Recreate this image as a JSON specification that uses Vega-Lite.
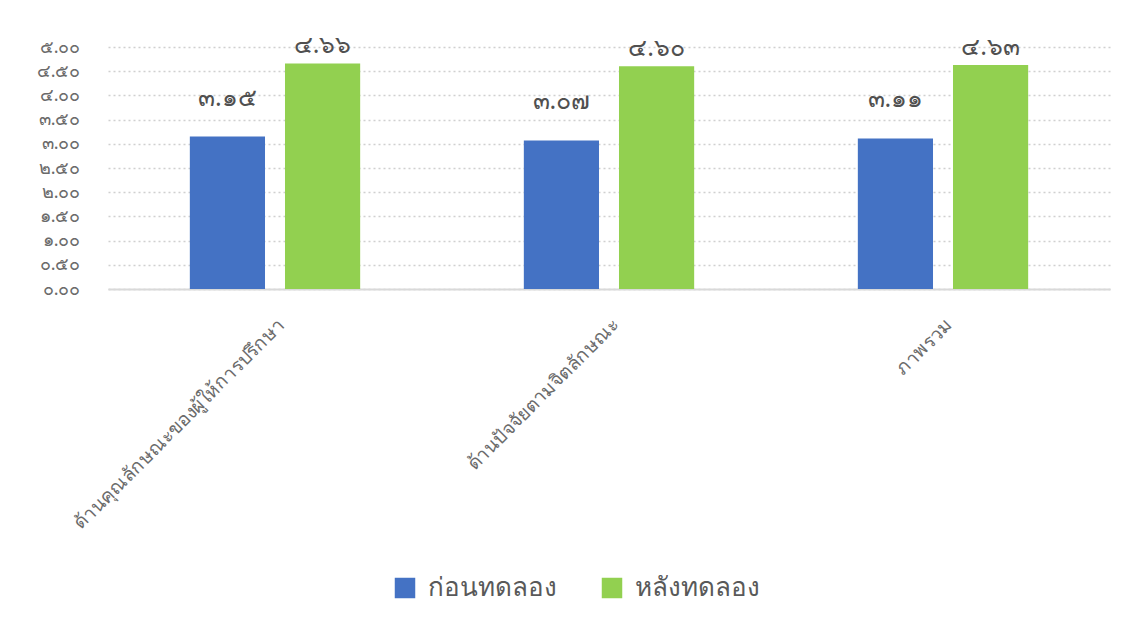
{
  "$schema": "https://vega.github.io/schema/vega-lite/v6.json",
  "width": 1002,
  "height": 242,
  "autosize": {"type": "none"},
  "padding": {"left": 108, "top": 47, "right": 18, "bottom": 340},
  "background": "white",
  "config": {
    "view": {"stroke": null},
    "font": "Noto Sans",
    "axis": {"labelColor": "#6b6b6b", "ticks": false, "title": null}
  },
  "data": {
    "values": [
      {"category": "ด้านคุณลักษณะของผู้ให้การปรึกษา", "series": "ก่อนทดลอง", "value": 3.15, "label": "๓.๑๕"},
      {"category": "ด้านคุณลักษณะของผู้ให้การปรึกษา", "series": "หลังทดลอง", "value": 4.66, "label": "๔.๖๖"},
      {"category": "ด้านปัจจัยตามจิตลักษณะ", "series": "ก่อนทดลอง", "value": 3.07, "label": "๓.๐๗"},
      {"category": "ด้านปัจจัยตามจิตลักษณะ", "series": "หลังทดลอง", "value": 4.60, "label": "๔.๖๐"},
      {"category": "ภาพรวม", "series": "ก่อนทดลอง", "value": 3.11, "label": "๓.๑๑"},
      {"category": "ภาพรวม", "series": "หลังทดลอง", "value": 4.63, "label": "๔.๖๓"}
    ]
  },
  "encoding": {
    "x": {
      "field": "category", "type": "nominal", "sort": null,
      "scale": {"paddingInner": 0.49, "paddingOuter": 0.245},
      "axis": {
        "labelAngle": -45, "labelAlign": "right", "labelBaseline": "top",
        "labelFontSize": 19, "labelPadding": 26, "labelLimit": 500,
        "domainColor": "#d9d9d9", "domainWidth": 2, "grid": false
      }
    },
    "xOffset": {"field": "series", "type": "nominal", "scale": {"paddingInner": 0.21}},
    "y": {
      "field": "value", "type": "quantitative",
      "scale": {"domain": [0, 5], "nice": false},
      "axis": {
        "values": [0, 0.5, 1, 1.5, 2, 2.5, 3, 3.5, 4, 4.5, 5],
        "labelExpr": "replace(replace(replace(replace(replace(replace(replace(replace(replace(replace(format(datum.value,'.2f'),/0/g,'๐'),/1/g,'๑'),/2/g,'๒'),/3/g,'๓'),/4/g,'๔'),/5/g,'๕'),/6/g,'๖'),/7/g,'๗'),/8/g,'๘'),/9/g,'๙')",
        "labelFontSize": 18, "labelPadding": 28, "domain": false, "labelFontWeight": "normal",
        "grid": true, "gridColor": "#d0d0d0", "gridDash": [2, 3], "gridWidth": 1.5
      }
    }
  },
  "layer": [
    {
      "mark": {"type": "bar"},
      "encoding": {
        "color": {
          "field": "series", "type": "nominal",
          "scale": {"domain": ["ก่อนทดลอง", "หลังทดลอง"], "range": ["#4472C4", "#92D050"]},
          "legend": {
            "orient": "none", "legendX": 284, "legendY": 528, "direction": "horizontal",
            "title": null, "symbolType": "square", "symbolSize": 420,
            "symbolStrokeWidth": 0, "labelFontSize": 26, "labelColor": "#595959",
            "columnPadding": 42, "labelOffset": 10
          }
        }
      }
    },
    {
      "transform": [{"filter": "datum.series === 'ก่อนทดลอง'"}],
      "mark": {"type": "text", "dy": -39, "fontSize": 25, "color": "#505050", "baseline": "middle"},
      "encoding": {"text": {"field": "label"}}
    },
    {
      "transform": [{"filter": "datum.series === 'หลังทดลอง'"}],
      "mark": {"type": "text", "dy": -18, "fontSize": 25, "color": "#505050", "baseline": "middle"},
      "encoding": {"text": {"field": "label"}}
    }
  ]
}
